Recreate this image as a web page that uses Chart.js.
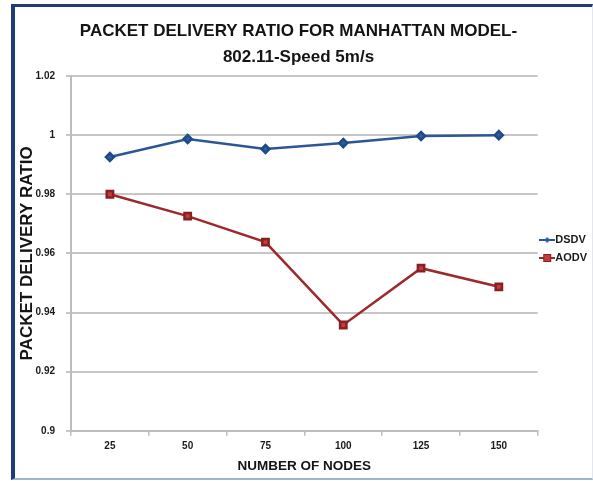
<!DOCTYPE html>
<html>
<head>
<meta charset="utf-8">
<script src="https://cdn.jsdelivr.net/npm/chart.js@4"></script>
<style>
  html, body { margin: 0; padding: 0; background: #fff; }
  #wrap { position: relative; width: 593px; height: 481px; }
  #pdrChart { position: absolute; left: 0; top: 0; }
  #frame {
    position: absolute; left: 11px; top: 4px; width: 577px; height: 471px;
    border-left: 4px solid #1d3d78; border-top: 3px solid #1d3d78;
    border-right: 1px solid #e2e6ee; border-bottom: 2px solid #9fb3d6;
    pointer-events: none;
  }
</style>
</head>
<body>
<div id="wrap">
  <canvas id="pdrChart" width="593" height="481"></canvas>
  <div id="frame"></div>
</div>
<script>
// Số nút mạng
const nodes = ['25', '50', '75', '100', '125', '150'];
// Tỉ lệ chuyển gói
const dsdv = [0.9926, 0.9987, 0.9953, 0.9973, 0.9997, 1.0];
const aodv = [0.9800, 0.9726, 0.9638, 0.9358, 0.9550, 0.9487];
// Nhãn trục tung
const yTicks = [0.9, 0.92, 0.94, 0.96, 0.98, 1, 1.02];

const FONT = "'Liberation Sans Narrow', 'Arial Narrow', 'Liberation Sans', Arial, sans-serif";

// Biểu tượng chú giải: đoạn thẳng có điểm đánh dấu
function legendIcon(color, fill, shape) {
    const c = document.createElement('canvas');
    c.width = 16; c.height = 10;
    const g = c.getContext('2d');
    g.strokeStyle = color; g.lineWidth = 2;
    g.beginPath(); g.moveTo(0, 5); g.lineTo(16, 5); g.stroke();
    g.fillStyle = fill;
    if (shape === 'diamond') {
        g.beginPath(); g.moveTo(8, 2); g.lineTo(11, 5); g.lineTo(8, 8); g.lineTo(5, 5); g.closePath(); g.fill();
    } else {
        g.fillRect(4.5, 1.5, 7, 7);
        g.strokeStyle = '#8a1f22'; g.lineWidth = 1; g.strokeRect(4.5, 1.5, 7, 7);
    }
    return c;
}

const ctx = document.getElementById('pdrChart').getContext('2d');
new Chart(ctx, {
    type: 'line',
    data: {
        labels: nodes,
        datasets: [
            {
                label: 'DSDV', data: dsdv,
                borderColor: '#2b5797', backgroundColor: '#2b5797',
                borderWidth: 2.5, pointStyle: 'rectRot', pointRadius: 4,
                pointBorderColor: '#1f4a85', pointBackgroundColor: '#2e5fa3',
                tension: 0
            },
            {
                label: 'AODV', data: aodv,
                borderColor: '#9c2a2c', backgroundColor: '#9c2a2c',
                borderWidth: 2.5, pointStyle: 'rect', pointRadius: 4.5,
                pointBorderColor: '#8a1f22', pointBackgroundColor: '#c23b3e',
                tension: 0
            }
        ]
    },
    options: {
        responsive: false,
        animation: false,
        layout: { padding: { left: 0, right: -4, top: 0, bottom: 7 } },
        plugins: {
            title: {
                display: true,
                text: ['PACKET DELIVERY RATIO FOR MANHATTAN MODEL-', '802.11-Speed 5m/s'],
                color: '#141414',
                font: { family: FONT, size: 17, weight: 'bold', lineHeight: 1.5 },
                padding: { top: 19, bottom: 6 }
            },
            legend: {
                position: 'right',
                // tiêu đề trống để hạ chú giải xuống giữa vùng vẽ
                title: { display: true, text: ' ', font: { size: 10, lineHeight: 1.2 }, padding: 6 },
                labels: {
                    color: '#1a1a1a',
                    font: { family: FONT, size: 11, weight: 'bold' },
                    usePointStyle: true,
                    pointStyleWidth: 5,
                    padding: 7,
                    generateLabels: (chart) => chart.data.datasets.map((ds, i) => ({
                        text: ds.label,
                        datasetIndex: i,
                        fontColor: '#1a1a1a',
                        pointStyle: i === 0 ? legendIcon('#2b5797', '#2e5fa3', 'diamond')
                                            : legendIcon('#9c2a2c', '#c23b3e', 'square'),
                        lineWidth: 0
                    }))
                }
            },
            tooltip: { enabled: false }
        },
        scales: {
            x: {
                offset: true,
                grid: { offset: true, drawOnChartArea: false, color: '#bdbdbd', tickLength: 5, lineWidth: 1.5 },
                border: { color: '#bdbdbd', width: 2 },
                ticks: { color: '#1a1a1a', font: { family: FONT, size: 10, weight: 'bold' }, padding: 4 },
                title: {
                    display: true, text: 'NUMBER OF NODES', color: '#141414',
                    font: { family: FONT, size: 13.5, weight: 'bold' }, padding: { top: 2, bottom: 0 }
                }
            },
            y: {
                min: 0.9, max: 1.02,
                afterBuildTicks: (scale) => { scale.ticks = yTicks.map(v => ({ value: v })); },
                grid: { color: '#c6c6c6', lineWidth: 2, tickLength: 5 },
                border: { color: '#bdbdbd', width: 2 },
                ticks: { color: '#1a1a1a', font: { family: FONT, size: 10, weight: 'bold' }, padding: 11,
                         callback: (v) => String(+v.toFixed(2)) },
                title: {
                    display: true, text: 'PACKET DELIVERY RATIO', color: '#141414',
                    font: { family: FONT, size: 17, weight: 'bold' }, padding: { top: 17, bottom: 0 }
                },
                afterFit: (scale) => { scale.width = 71; }
            }
        }
    }
});
</script>
</body>
</html>
